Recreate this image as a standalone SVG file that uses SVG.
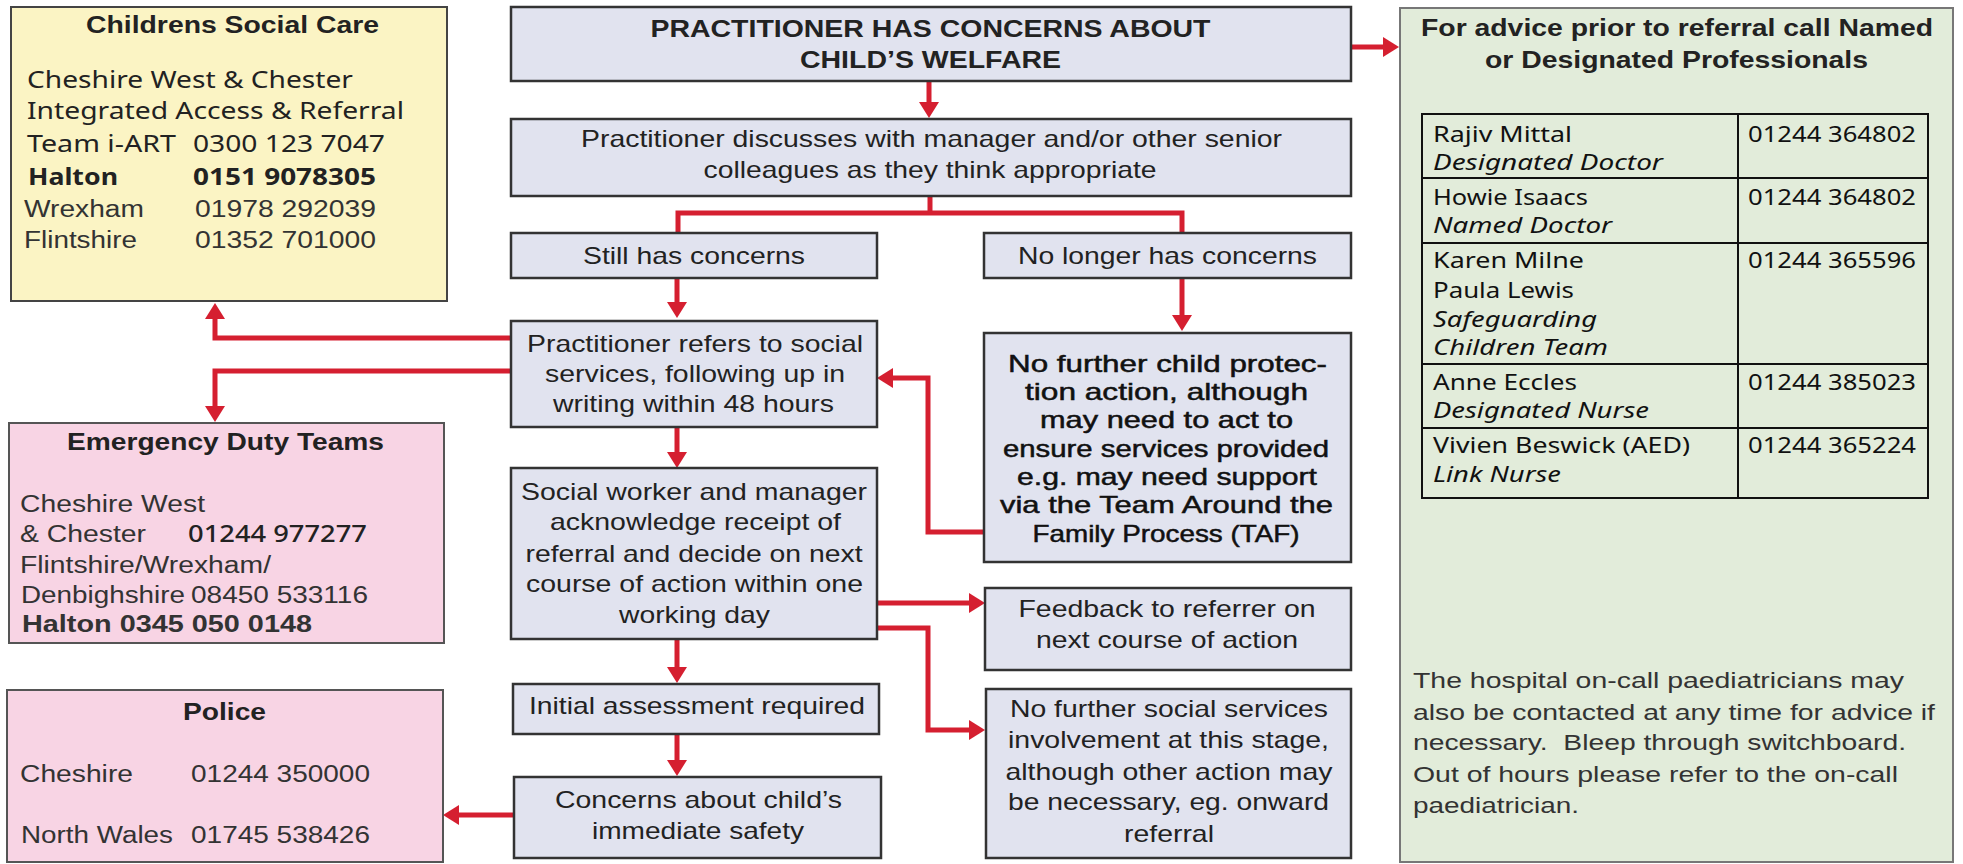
<svg xmlns="http://www.w3.org/2000/svg" width="1963" height="864" viewBox="0 0 1963 864">
<style>
.fb{fill:#e1e3ef;stroke:#333;stroke-width:2.5}
.csc{fill:#fbf4c4;stroke:#444;stroke-width:2}
.pink{fill:#f8d4e4;stroke:#555;stroke-width:2}
.green{fill:#e2ecda;stroke:#777;stroke-width:2}
.tbl{fill:none;stroke:#111;stroke-width:2}
.con{fill:none;stroke:#d51f30;stroke-width:5}
.arr{fill:none;stroke:#d51f30;stroke-width:5;marker-end:url(#ah)}
text{font-family:"Liberation Sans",Arial,sans-serif;fill:#222}
.ft{font-family:"Liberation Sans",Arial,sans-serif;font-size:24px;text-anchor:middle;fill:#222}
.ftb{font-weight:bold}
.nf{font-family:"Liberation Sans",Arial,sans-serif;font-size:24px;text-anchor:middle;fill:#111;stroke:#111;stroke-width:0.5}
.fr{font-family:"Noto Sans","Open Sans",sans-serif;font-size:23px;fill:#222}
.ar{font-family:"Liberation Sans",Arial,sans-serif;font-size:23px;fill:#333}
.hd{font-family:"Liberation Sans",Arial,sans-serif;font-weight:bold;font-size:23px;text-anchor:middle;fill:#222}
.tb{font-family:"Noto Sans","Open Sans",sans-serif;font-size:21px;fill:#111}
.it{font-style:italic}
.nt{font-family:"Liberation Sans",Arial,sans-serif;font-size:22px;fill:#333}
</style>
<defs>
<marker id="ah" viewBox="0 0 16 20" refX="8" refY="10" markerWidth="16" markerHeight="20" markerUnits="userSpaceOnUse" orient="auto">
<path d="M0,0 L16,10 L0,20 Z" fill="#d51f30"/>
</marker>
</defs>
<rect width="1963" height="864" fill="#ffffff"/>

<g id="connectors">
<path class="arr" d="M929,81 V110"/>
<path class="arr" d="M1351,47 H1391"/>
<path class="con" d="M930,196 V213"/>
<path class="con" d="M678,233 V213 H1182 V233"/>
<path class="arr" d="M677,278 V310"/>
<path class="arr" d="M1182,278 V323"/>
<path class="arr" d="M511,338 H215 V311"/>
<path class="arr" d="M511,371 H215 V414"/>
<path class="arr" d="M985,532 H928 V378 H885"/>
<path class="arr" d="M677,427 V460"/>
<path class="arr" d="M877,603 H977"/>
<path class="arr" d="M877,628 H928 V730 H977"/>
<path class="arr" d="M677,639 V675"/>
<path class="arr" d="M677,734 V768"/>
<path class="arr" d="M514,815 H451"/>
</g>

<g id="childrens-social-care">
<rect class="csc" x="11" y="7" width="436" height="294"/>
<text class="hd" x="232.5" y="33" textLength="293" lengthAdjust="spacingAndGlyphs">Childrens Social Care</text>
<text class="fr" x="27" y="88" textLength="326" lengthAdjust="spacingAndGlyphs">Cheshire West &amp; Chester</text>
<text class="fr" x="27" y="119" textLength="377" lengthAdjust="spacingAndGlyphs">Integrated Access &amp; Referral</text>
<text class="fr" x="27" y="152" textLength="149" lengthAdjust="spacingAndGlyphs">Team i-ART</text>
<text class="fr" x="193" y="152" textLength="192" lengthAdjust="spacingAndGlyphs">0300 123 7047</text>
<text class="fr" x="28" y="185" font-weight="bold" textLength="90" lengthAdjust="spacingAndGlyphs">Halton</text>
<text class="fr" x="193" y="185" font-weight="bold" textLength="183" lengthAdjust="spacingAndGlyphs">0151 9078305</text>
<text class="ar" x="24" y="217" textLength="120" lengthAdjust="spacingAndGlyphs">Wrexham</text>
<text class="ar" x="195" y="217" textLength="181" lengthAdjust="spacingAndGlyphs">01978 292039</text>
<text class="ar" x="24" y="248" textLength="113" lengthAdjust="spacingAndGlyphs">Flintshire</text>
<text class="ar" x="195" y="248" textLength="181" lengthAdjust="spacingAndGlyphs">01352 701000</text>
</g>

<g id="emergency-duty-teams">
<rect class="pink" x="9" y="423" width="435" height="220"/>
<text class="hd" x="225.5" y="450" textLength="317" lengthAdjust="spacingAndGlyphs">Emergency Duty Teams</text>
<text class="ar" x="20" y="512" textLength="185" lengthAdjust="spacingAndGlyphs">Cheshire West</text>
<text class="ar" x="20" y="542" textLength="126" lengthAdjust="spacingAndGlyphs">&amp; Chester</text>
<text class="fr" x="188" y="542" textLength="179" lengthAdjust="spacingAndGlyphs" font-weight="500">01244 977277</text>
<text class="ar" x="20" y="573" textLength="251" lengthAdjust="spacingAndGlyphs">Flintshire/Wrexham/</text>
<text class="ar" x="21" y="603" textLength="164" lengthAdjust="spacingAndGlyphs">Denbighshire</text>
<text class="ar" x="191" y="603" textLength="177" lengthAdjust="spacingAndGlyphs">08450 533116</text>
<text class="ar" x="22" y="632" font-weight="bold" fill="#111" textLength="290" lengthAdjust="spacingAndGlyphs">Halton 0345 050 0148</text>
</g>

<g id="police">
<rect class="pink" x="7" y="690" width="436" height="172"/>
<text class="hd" x="224.5" y="720" textLength="83" lengthAdjust="spacingAndGlyphs">Police</text>
<text class="ar" x="20" y="782" textLength="113" lengthAdjust="spacingAndGlyphs">Cheshire</text>
<text class="ar" x="191" y="782" textLength="179" lengthAdjust="spacingAndGlyphs">01244 350000</text>
<text class="ar" x="21" y="843" textLength="152" lengthAdjust="spacingAndGlyphs">North Wales</text>
<text class="ar" x="191" y="843" textLength="179" lengthAdjust="spacingAndGlyphs">01745 538426</text>
</g>

<g id="practitioner-concerns">
<rect class="fb" x="511" y="7" width="840" height="74"/>
<text class="ft ftb" x="930.5" y="37" textLength="560" lengthAdjust="spacingAndGlyphs">PRACTITIONER HAS CONCERNS ABOUT</text>
<text class="ft ftb" x="930.5" y="68" textLength="261" lengthAdjust="spacingAndGlyphs">CHILD’S WELFARE</text>
</g>

<g id="discusses">
<rect class="fb" x="511" y="119" width="840" height="77"/>
<text class="ft" x="931.5" y="147" textLength="701" lengthAdjust="spacingAndGlyphs">Practitioner discusses with manager and/or other senior</text>
<text class="ft" x="930" y="178" textLength="453" lengthAdjust="spacingAndGlyphs">colleagues as they think appropriate</text>
</g>

<g id="still-concerns">
<rect class="fb" x="511" y="233" width="366" height="45"/>
<text class="ft" x="694" y="264" textLength="222" lengthAdjust="spacingAndGlyphs">Still has concerns</text>
</g>

<g id="no-longer-concerns">
<rect class="fb" x="984" y="233" width="367" height="45"/>
<text class="ft" x="1167.5" y="264" textLength="299" lengthAdjust="spacingAndGlyphs">No longer has concerns</text>
</g>

<g id="refers">
<rect class="fb" x="511" y="321" width="366" height="106"/>
<text class="ft" x="695" y="352" textLength="336" lengthAdjust="spacingAndGlyphs">Practitioner refers to social</text>
<text class="ft" x="695" y="382" textLength="300" lengthAdjust="spacingAndGlyphs">services, following up in</text>
<text class="ft" x="693.5" y="412" textLength="281" lengthAdjust="spacingAndGlyphs">writing within 48 hours</text>
</g>

<g id="no-further-cp">
<rect class="fb" x="984" y="333" width="367" height="229"/>
<text class="nf" x="1167.5" y="372" textLength="319" lengthAdjust="spacingAndGlyphs">No further child protec-</text>
<text class="nf" x="1166.5" y="400" textLength="283" lengthAdjust="spacingAndGlyphs">tion action, although</text>
<text class="nf" x="1166.5" y="428" textLength="253" lengthAdjust="spacingAndGlyphs">may need to act to</text>
<text class="nf" x="1166" y="457" textLength="326" lengthAdjust="spacingAndGlyphs">ensure services provided</text>
<text class="nf" x="1167" y="485" textLength="300" lengthAdjust="spacingAndGlyphs">e.g. may need support</text>
<text class="nf" x="1166.5" y="513" textLength="333" lengthAdjust="spacingAndGlyphs">via the Team Around the</text>
<text class="nf" x="1166" y="542" textLength="267" lengthAdjust="spacingAndGlyphs">Family Process (TAF)</text>
</g>

<g id="social-worker">
<rect class="fb" x="511" y="468" width="366" height="171"/>
<text class="ft" x="694" y="500" textLength="346" lengthAdjust="spacingAndGlyphs">Social worker and manager</text>
<text class="ft" x="695.5" y="530" textLength="291" lengthAdjust="spacingAndGlyphs">acknowledge receipt of</text>
<text class="ft" x="694" y="562" textLength="337" lengthAdjust="spacingAndGlyphs">referral and decide on next</text>
<text class="ft" x="694.5" y="592" textLength="337" lengthAdjust="spacingAndGlyphs">course of action within one</text>
<text class="ft" x="694.5" y="623" textLength="151" lengthAdjust="spacingAndGlyphs">working day</text>
</g>

<g id="feedback">
<rect class="fb" x="985" y="588" width="366" height="82"/>
<text class="ft" x="1167" y="617" textLength="297" lengthAdjust="spacingAndGlyphs">Feedback to referrer on</text>
<text class="ft" x="1167" y="648" textLength="262" lengthAdjust="spacingAndGlyphs">next course of action</text>
</g>

<g id="initial-assessment">
<rect class="fb" x="513" y="684" width="366" height="50"/>
<text class="ft" x="697" y="714" textLength="336" lengthAdjust="spacingAndGlyphs">Initial assessment required</text>
</g>

<g id="immediate-safety">
<rect class="fb" x="514" y="777" width="367" height="81"/>
<text class="ft" x="698.5" y="808" textLength="287" lengthAdjust="spacingAndGlyphs">Concerns about child’s</text>
<text class="ft" x="698" y="839" textLength="212" lengthAdjust="spacingAndGlyphs">immediate safety</text>
</g>

<g id="no-further-ss">
<rect class="fb" x="986" y="689" width="365" height="169"/>
<text class="ft" x="1169" y="717" textLength="318" lengthAdjust="spacingAndGlyphs">No further social services</text>
<text class="ft" x="1168.5" y="748" textLength="321" lengthAdjust="spacingAndGlyphs">involvement at this stage,</text>
<text class="ft" x="1169" y="780" textLength="327" lengthAdjust="spacingAndGlyphs">although other action may</text>
<text class="ft" x="1168.5" y="810" textLength="321" lengthAdjust="spacingAndGlyphs">be necessary, eg. onward</text>
<text class="ft" x="1169" y="842" textLength="90" lengthAdjust="spacingAndGlyphs">referral</text>
</g>

<g id="advice">
<rect class="green" x="1400" y="8" width="553" height="854"/>
<text class="hd" x="1677" y="36" font-size="22" textLength="512" lengthAdjust="spacingAndGlyphs">For advice prior to referral call Named</text>
<text class="hd" x="1676.5" y="68" font-size="22" textLength="383" lengthAdjust="spacingAndGlyphs">or Designated Professionals</text>
<rect class="tbl" x="1422" y="114" width="506" height="384"/>
<path class="tbl" d="M1738,114 V498 M1422,178 H1928 M1422,243 H1928 M1422,364 H1928 M1422,428 H1928"/>
<text class="tb" x="1433" y="142" textLength="139" lengthAdjust="spacingAndGlyphs">Rajiv Mittal</text>
<text class="tb it" x="1433" y="170" textLength="230" lengthAdjust="spacingAndGlyphs">Designated Doctor</text>
<text class="tb" x="1748" y="142" textLength="168" lengthAdjust="spacingAndGlyphs">01244 364802</text>
<text class="tb" x="1433" y="205" textLength="155" lengthAdjust="spacingAndGlyphs">Howie Isaacs</text>
<text class="tb it" x="1433" y="233" textLength="179" lengthAdjust="spacingAndGlyphs">Named Doctor</text>
<text class="tb" x="1748" y="205" textLength="168" lengthAdjust="spacingAndGlyphs">01244 364802</text>
<text class="tb" x="1433" y="268" textLength="151" lengthAdjust="spacingAndGlyphs">Karen Milne</text>
<text class="tb" x="1433" y="298" textLength="141" lengthAdjust="spacingAndGlyphs">Paula Lewis</text>
<text class="tb it" x="1433" y="327" textLength="164" lengthAdjust="spacingAndGlyphs">Safeguarding</text>
<text class="tb it" x="1433" y="355" textLength="175" lengthAdjust="spacingAndGlyphs">Children Team</text>
<text class="tb" x="1748" y="268" textLength="168" lengthAdjust="spacingAndGlyphs">01244 365596</text>
<text class="tb" x="1433" y="390" textLength="144" lengthAdjust="spacingAndGlyphs">Anne Eccles</text>
<text class="tb it" x="1433" y="418" textLength="216" lengthAdjust="spacingAndGlyphs">Designated Nurse</text>
<text class="tb" x="1748" y="390" textLength="168" lengthAdjust="spacingAndGlyphs">01244 385023</text>
<text class="tb" x="1433" y="453" textLength="257" lengthAdjust="spacingAndGlyphs">Vivien Beswick (AED)</text>
<text class="tb it" x="1433" y="482" textLength="128" lengthAdjust="spacingAndGlyphs">Link Nurse</text>
<text class="tb" x="1748" y="453" textLength="168" lengthAdjust="spacingAndGlyphs">01244 365224</text>
<text class="nt" x="1413" y="688" textLength="491" lengthAdjust="spacingAndGlyphs">The hospital on-call paediatricians may</text>
<text class="nt" x="1413" y="720" textLength="522" lengthAdjust="spacingAndGlyphs">also be contacted at any time for advice if</text>
<text class="nt" x="1413" y="750" textLength="493" lengthAdjust="spacingAndGlyphs" xml:space="preserve">necessary.  Bleep through switchboard.</text>
<text class="nt" x="1413" y="782" textLength="485" lengthAdjust="spacingAndGlyphs">Out of hours please refer to the on-call</text>
<text class="nt" x="1413" y="813" textLength="166" lengthAdjust="spacingAndGlyphs">paediatrician.</text>
</g>
</svg>
